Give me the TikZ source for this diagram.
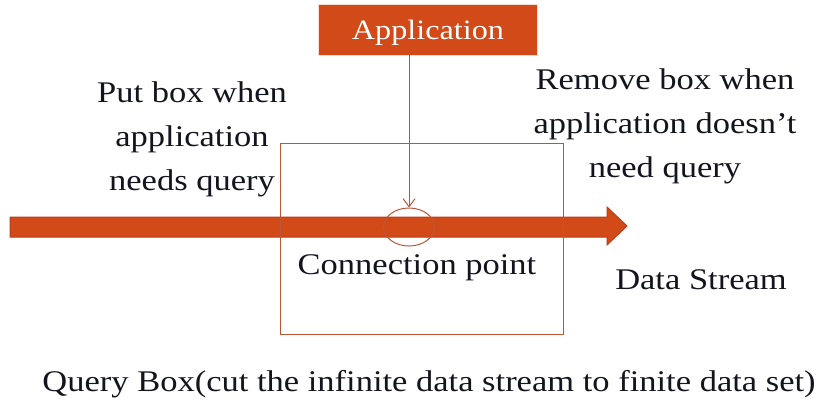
\documentclass[tikz,border=0pt]{standalone}
\usepackage{fontspec}
\setmainfont{Liberation Serif}[FakeStretch=1.15]
\usetikzlibrary{arrows.meta,shapes.geometric}
\definecolor{streamfill}{RGB}{209,74,24}
\definecolor{streamline}{RGB}{185,62,28}
\definecolor{boxline}{RGB}{190,85,55}
\definecolor{txt}{RGB}{20,20,30}
\tikzset{
  lbl/.style={font=\fontsize{30}{44}\selectfont, text=txt, align=center, inner sep=0pt},
}
\begin{document}
\begin{tikzpicture}[x=1pt,y=-1pt]
\useasboundingbox (0,0) rectangle (820,402);
% data stream arrow
\draw[streamline, fill=streamfill, line width=1pt] (10,217) -- (607,217) -- (607,207) -- (627,226) -- (607,245) -- (607,237) -- (10,237) -- cycle;
% query box
\node[draw=boxline, line width=1pt, minimum width=283pt, minimum height=191pt, inner sep=0pt] (qbox) at (421.5,238.5) {};
% connection ellipse
\node[draw=boxline, line width=1pt, ellipse, minimum width=51pt, minimum height=38pt, inner sep=0pt] (conn) at (409,227) {};
% application
\node[fill=streamfill, draw=white!80!streamfill, line width=0.8pt, minimum width=219pt, minimum height=51pt, inner sep=0pt] (app) at (427.5,29.5) {};
\node[anchor=base, text=white, font=\fontsize{28}{34}\selectfont, inner sep=0pt] (apptext) at (428,39) {Application};
\draw[boxline, line width=1pt, -{Straight Barb[length=8pt,width=12pt]}] (app.south -| conn.north) -- (conn.north);
% labels
\node[lbl] (put) at (192,139) {Put box when\\application\\needs query};
\node[lbl] (remove) at (665,126) {Remove box when\\application doesn't\\need query};
\node[lbl, anchor=base] (cp) at (417,274) {Connection point};
\node[lbl, anchor=base] (ds) at (701,289) {Data Stream};
\node[lbl, anchor=base] (qb) at (429,391) {Query Box(cut the infinite data stream to finite data set)};
\end{tikzpicture}
\end{document}
